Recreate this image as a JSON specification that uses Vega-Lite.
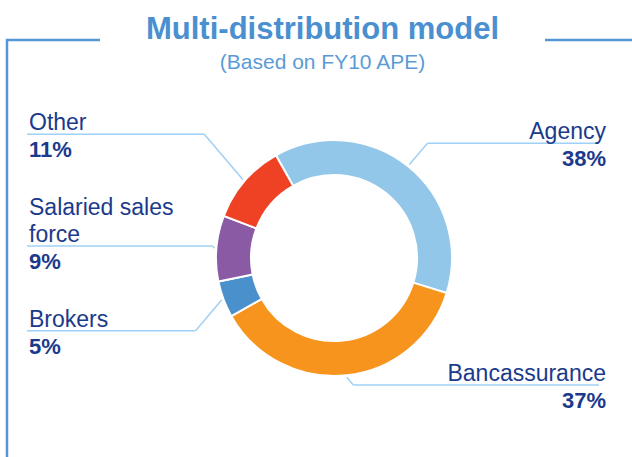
{
  "$schema": "https://vega.github.io/schema/vega-lite/v6.json",
  "width": 625,
  "height": 417,
  "autosize": {"type": "none"},
  "padding": {"left": 7, "top": 40, "right": 0, "bottom": 0},
  "background": "white",
  "title": {
    "text": "Multi-distribution model",
    "subtitle": "(Based on FY10 APE)",
    "anchor": "middle",
    "font": "Liberation Sans",
    "fontSize": 31,
    "fontWeight": "bold",
    "color": "#4a90d0",
    "subtitleFont": "Liberation Sans",
    "subtitleFontSize": 21,
    "subtitleColor": "#5b9bd5",
    "subtitlePadding": 6,
    "offset": -34,
    "dx": 3
  },
  "view": {"stroke": "#5497d4", "strokeWidth": 2.5, "strokeDash": [93, 445, 87, 1042, 417]},
  "data": {
    "values": [
      {"category": "Agency", "label": "Agency", "share": 38},
      {"category": "Bancassurance", "label": "Bancassurance", "share": 37},
      {"category": "Brokers", "label": "Brokers", "share": 5},
      {"category": "Salaried sales force", "label": "Salaried sales\nforce", "share": 9},
      {"category": "Other", "label": "Other", "share": 11}
    ]
  },
  "transform": [
    {"window": [{"op": "sum", "field": "share", "as": "cum"}], "frame": [null, 0]},
    {"calculate": "datum.cum - datum.share", "as": "start"},
    {"calculate": "-0.515 + 2*PI*(datum.cum - datum.share/2)/100", "as": "mid"},
    {"calculate": "sin(datum.mid) > 0 ? 'right' : 'left'", "as": "side"},
    {"calculate": "120*sin(datum.mid)", "as": "sx"},
    {"calculate": "-120*cos(datum.mid)", "as": "sy"},
    {"calculate": "datum.side === 'right' ? -8.6 - 136.4*cos(datum.mid) : 4 - 196*cos(datum.mid)", "as": "ly"},
    {"calculate": "datum.sx + (datum.side === 'right' ? 1 : -1)*0.85*abs(datum.ly - datum.sy)", "as": "ex"},
    {"calculate": "datum.side === 'right' ? 265 : -307", "as": "lx"},
    {"calculate": "datum.side === 'right' ? 272 : -305", "as": "tx"},
    {"calculate": "datum.ly - 27*(length(split(datum.label, '\\n')) - 1)", "as": "ny"},
    {"calculate": "datum.share + '%'", "as": "pct"}
  ],
  "layer": [
    {
      "mark": {"type": "arc", "outerRadius": 118, "innerRadius": 83, "stroke": "white", "strokeWidth": 2},
      "encoding": {
        "x": {"datum": 0, "type": "quantitative", "scale": {"domain": [-327, 298], "nice": false, "zero": false}, "axis": null},
        "y": {"datum": 0, "type": "quantitative", "scale": {"domain": [-218, 199], "nice": false, "zero": false, "reverse": true}, "axis": null},
        "theta": {"field": "start", "type": "quantitative", "scale": {"domain": [0, 100], "range": [-0.515, 5.768]}},
        "theta2": {"field": "cum"},
        "color": {
          "field": "category",
          "type": "nominal",
          "scale": {
            "domain": ["Agency", "Bancassurance", "Brokers", "Salaried sales force", "Other"],
            "range": ["#93c7ea", "#f7941e", "#4a90cd", "#8a5aa5", "#ef4123"]
          },
          "legend": null
        }
      }
    },
    {
      "mark": {"type": "rule", "color": "#9fd0f5", "strokeWidth": 1.5},
      "encoding": {
        "x": {"field": "sx", "type": "quantitative", "scale": {"domain": [-327, 298], "nice": false, "zero": false}, "axis": null},
        "y": {"field": "sy", "type": "quantitative", "scale": {"domain": [-218, 199], "nice": false, "zero": false, "reverse": true}, "axis": null},
        "x2": {"field": "ex"},
        "y2": {"field": "ly"}
      }
    },
    {
      "mark": {"type": "rule", "color": "#9fd0f5", "strokeWidth": 1.5},
      "encoding": {
        "x": {"field": "ex", "type": "quantitative", "scale": {"domain": [-327, 298], "nice": false, "zero": false}, "axis": null},
        "x2": {"field": "lx"},
        "y": {"field": "ly", "type": "quantitative", "scale": {"domain": [-218, 199], "nice": false, "zero": false, "reverse": true}, "axis": null}
      }
    },
    {
      "transform": [{"filter": "datum.side === 'right'"}],
      "mark": {"type": "text", "align": "right", "baseline": "alphabetic", "dy": -4, "font": "Liberation Sans", "fontSize": 23, "color": "#1b3a8c", "lineBreak": "\n", "lineHeight": 27},
      "encoding": {
        "x": {"field": "tx", "type": "quantitative", "scale": {"domain": [-327, 298], "nice": false, "zero": false}, "axis": null},
        "y": {"field": "ny", "type": "quantitative", "scale": {"domain": [-218, 199], "nice": false, "zero": false, "reverse": true}, "axis": null},
        "text": {"field": "label"}
      }
    },
    {
      "transform": [{"filter": "datum.side === 'left'"}],
      "mark": {"type": "text", "align": "left", "baseline": "alphabetic", "dy": -4, "font": "Liberation Sans", "fontSize": 23, "color": "#1b3a8c", "lineBreak": "\n", "lineHeight": 27},
      "encoding": {
        "x": {"field": "tx", "type": "quantitative", "scale": {"domain": [-327, 298], "nice": false, "zero": false}, "axis": null},
        "y": {"field": "ny", "type": "quantitative", "scale": {"domain": [-218, 199], "nice": false, "zero": false, "reverse": true}, "axis": null},
        "text": {"field": "label"}
      }
    },
    {
      "transform": [{"filter": "datum.side === 'right'"}],
      "mark": {"type": "text", "align": "right", "baseline": "alphabetic", "dy": 23, "font": "Liberation Sans", "fontSize": 22, "fontWeight": "bold", "color": "#1b3a8c"},
      "encoding": {
        "x": {"field": "tx", "type": "quantitative", "scale": {"domain": [-327, 298], "nice": false, "zero": false}, "axis": null},
        "y": {"field": "ly", "type": "quantitative", "scale": {"domain": [-218, 199], "nice": false, "zero": false, "reverse": true}, "axis": null},
        "text": {"field": "pct"}
      }
    },
    {
      "transform": [{"filter": "datum.side === 'left'"}],
      "mark": {"type": "text", "align": "left", "baseline": "alphabetic", "dy": 23, "font": "Liberation Sans", "fontSize": 22, "fontWeight": "bold", "color": "#1b3a8c"},
      "encoding": {
        "x": {"field": "tx", "type": "quantitative", "scale": {"domain": [-327, 298], "nice": false, "zero": false}, "axis": null},
        "y": {"field": "ly", "type": "quantitative", "scale": {"domain": [-218, 199], "nice": false, "zero": false, "reverse": true}, "axis": null},
        "text": {"field": "pct"}
      }
    }
  ]
}
